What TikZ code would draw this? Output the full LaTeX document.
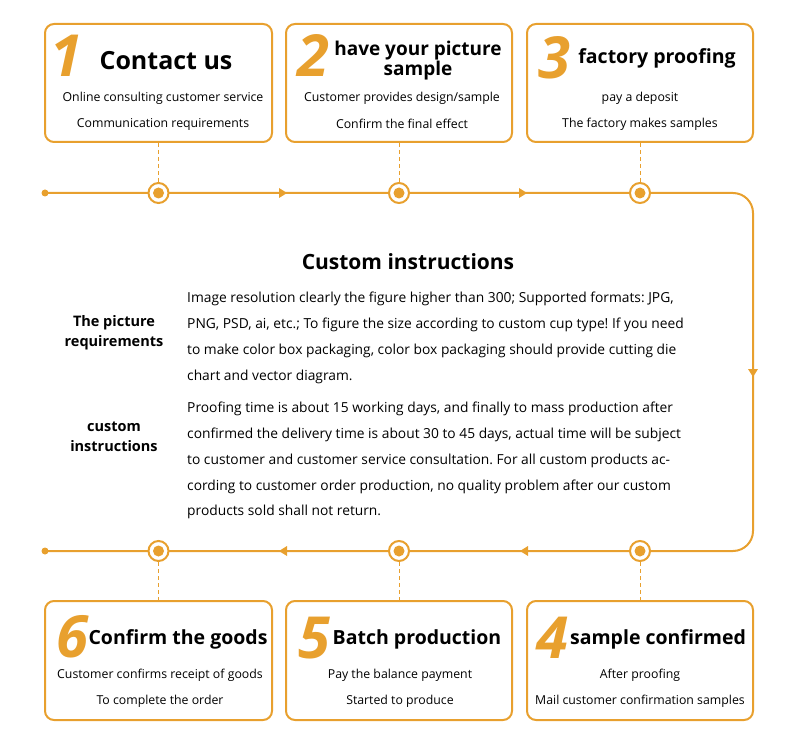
\documentclass[tikz,border=0pt]{standalone}
\usepackage{fontspec}
\setmainfont{Open Sans}
\frenchspacing
\definecolor{org}{HTML}{E8A02E}
\tikzset{
  box/.style={draw=org, line width=2pt, rounded corners=9pt, fill=white},
  bignum/.style={text=org, font=\fontsize{58}{58}\selectfont\bfseries\itshape, inner sep=0pt},
  ttl/.style={font=\fontsize{21}{21}\selectfont\bfseries, inner sep=0pt},
  sub/.style={font=\fontsize{12.3}{12}\selectfont, inner sep=0pt},
  ring/.style={circle, draw=org, line width=2pt, fill=white, minimum size=20pt, inner sep=0pt},
  dashline/.style={draw=org, line width=1pt, dash pattern=on 4pt off 3pt},
  flow/.style={draw=org, line width=2pt},
  para/.style={font=\fontsize{13.8}{25.8}\selectfont, align=left, anchor=north west, inner sep=0pt, text depth=0pt},
  lbl/.style={font=\fontsize{14.5}{20}\selectfont\bfseries, align=center, inner sep=0pt},
}
\begin{document}
\begin{tikzpicture}[x=1pt,y=-1pt]
\useasboundingbox (0,0) rectangle (790,738);
% boxes
\node[box, minimum width=227pt, minimum height=118pt] (b1) at (158.5,83) {};
\node[box, minimum width=226pt, minimum height=118pt] (b2) at (399,83) {};
\node[box, minimum width=226pt, minimum height=118pt] (b3) at (640,83) {};
\node[box, minimum width=227pt, minimum height=119pt] (b6) at (158.5,660.5) {};
\node[box, minimum width=226pt, minimum height=119pt] (b5) at (399,660.5) {};
\node[box, minimum width=226pt, minimum height=119pt] (b4) at (640,660.5) {};
% numbers and titles
\node[bignum] (n1) at (66,56) {1};
\node[ttl, font=\fontsize{25}{25}\selectfont\bfseries] (t1) at (166,61) {Contact us};
\node[bignum] (n2) at (313,56) {2};
\node[ttl, align=center, font=\fontsize{19}{20}\selectfont\bfseries] (t2) at (418,61) {have your picture\\sample};
\node[bignum] (n3) at (554,58) {3};
\node[ttl, font=\fontsize{19.5}{20}\selectfont\bfseries] (t3) at (657,58) {factory proofing};
\node[bignum] (n6) at (72,637) {6};
\node[ttl, font=\fontsize{19.5}{20}\selectfont\bfseries] (t6) at (178,639) {Confirm the goods};
\node[bignum] (n5) at (314,638) {5};
\node[ttl, font=\fontsize{19.5}{20}\selectfont\bfseries] (t5) at (417,639) {Batch production};
\node[bignum] (n4) at (552,638) {4};
\node[ttl, font=\fontsize{19.5}{20}\selectfont\bfseries] (t4) at (658,639) {sample confirmed};
% sub texts
\node[sub] (s1a) at (163,98) {Online consulting customer service};
\node[sub] (s1b) at (163,124) {Communication requirements};
\node[sub] (s2a) at (402,98) {Customer provides design/sample};
\node[sub] (s2b) at (402,124) {Confirm the final effect};
\node[sub] (s3a) at (640,98) {pay a deposit};
\node[sub] (s3b) at (640,124) {The factory makes samples};
\node[sub] (s6a) at (160,675) {Customer confirms receipt of goods};
\node[sub] (s6b) at (160,701) {To complete the order};
\node[sub] (s5a) at (400,675) {Pay the balance payment};
\node[sub] (s5b) at (400,701) {Started to produce};
\node[sub] (s4a) at (640,675) {After proofing};
\node[sub] (s4b) at (640,701) {Mail customer confirmation samples};
% flow line
\coordinate (tl) at (45,193);
\coordinate (tr) at (753,193);
\coordinate (br) at (753,551);
\coordinate (bl) at (45,551);
\draw[flow, rounded corners=20pt] (tl) -- (tr) -- (br) -- (bl);
\fill[org] (tl) circle (3.5pt);
\fill[org] (bl) circle (3.5pt);
% arrowheads
\fill[org] (287,193) -- (279,188) -- (279,198) -- cycle;
\fill[org] (527,193) -- (519,188) -- (519,198) -- cycle;
\fill[org] (753,377) -- (748,369) -- (758,369) -- cycle;
\fill[org] (279,551) -- (287,546) -- (287,556) -- cycle;
\fill[org] (520,551) -- (528,546) -- (528,556) -- cycle;
% rings
\foreach \n/\x/\y in {c1/158.5/193, c2/399/193, c3/640/193, c6/158.5/551, c5/399/551, c4/640/551}{
  \node[ring] (\n) at (\x,\y) {};
  \fill[org] (\n.center) circle (5.5pt);
}
% dashed connectors
\draw[dashline] (b1.south) -- (c1.north);
\draw[dashline] (b2.south) -- (c2.north);
\draw[dashline] (b3.south) -- (c3.north);
\draw[dashline] (c6.south) -- (b6.north);
\draw[dashline] (c5.south) -- (b5.north);
\draw[dashline] (c4.south) -- (b4.north);
% custom instructions
\node[font=\fontsize{21}{21}\selectfont\bfseries, inner sep=0pt] (head) at (408,262) {Custom instructions};
\node[lbl] (l1) at (114,333) {The picture\\requirements};
\node[lbl] (l2) at (114,437) {custom\\instructions};
\node[para] (p1) at (187,292) {Image resolution clearly the figure higher than 300; Supported formats: JPG,\\
PNG, PSD, ai, etc.; To figure the size according to custom cup type! If you need\\
to make color box packaging, color box packaging should provide cutting die\\
chart and vector diagram.};
\node[para] (p2) at (187,402) {Proofing time is about 15 working days, and finally to mass production after\\
confirmed the delivery time is about 30 to 45 days, actual time will be subject\\
to customer and customer service consultation. For all custom products ac-\\
cording to customer order production, no quality problem after our custom\\
products sold shall not return.};
\end{tikzpicture}
\end{document}
